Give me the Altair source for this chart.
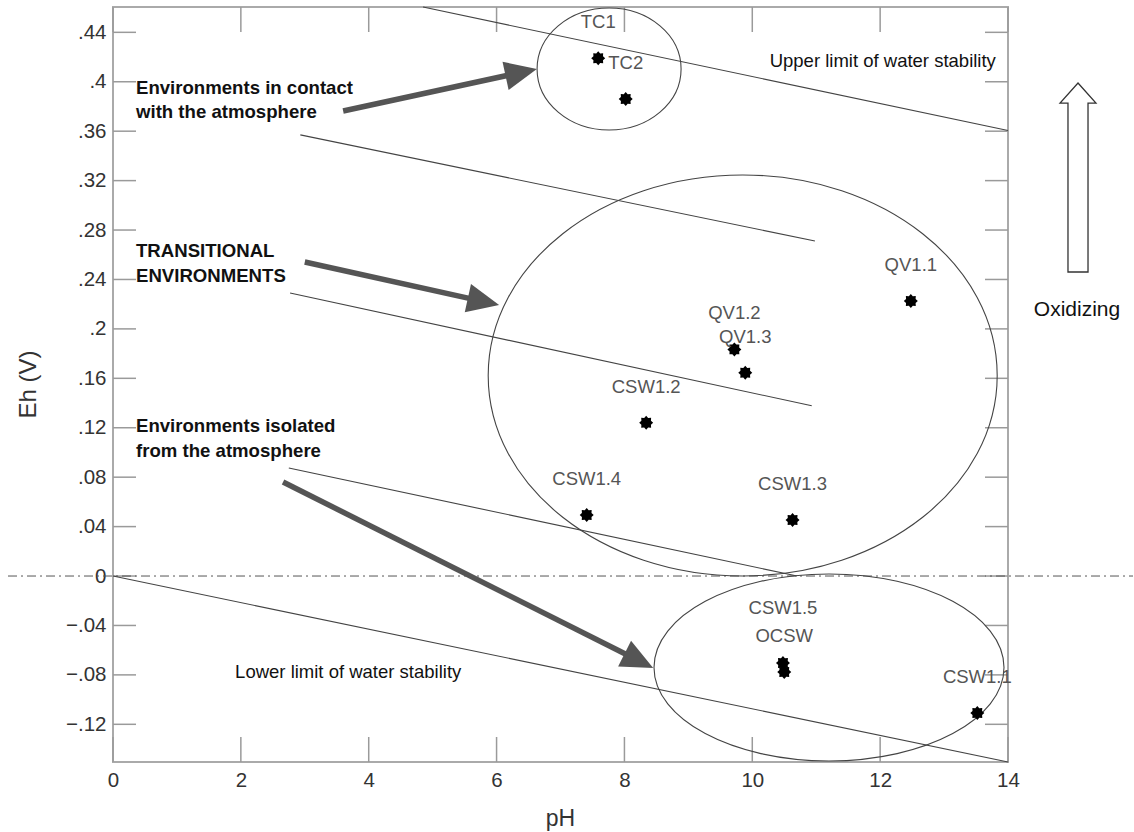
import math
import altair as alt
import pandas as pd

# ---------------- data ----------------
sample_names = ["TC1", "TC2", "QV1.1", "QV1.2", "QV1.3", "CSW1.2", "CSW1.4",
                "CSW1.3", "CSW1.5", "OCSW", "CSW1.1"]
sample_ph = [7.59, 8.02, 12.48, 9.72, 9.89, 8.34, 7.41, 10.63, 10.48, 10.50, 13.52]
sample_eh = [0.419, 0.386, 0.2226, 0.1834, 0.1645, 0.1241, 0.0494, 0.0453,
             -0.0704, -0.0777, -0.1108]

# boundary lines (water stability limits and environment separators)
line_names = ["upper", "trans_top", "trans_mid", "trans_low", "lower"]
line_ph_start = [4.85, 2.93, 2.77, 2.75, 0.0]
line_eh_start = [0.4605, 0.357, 0.229, 0.0874, 0.0]
line_ph_end = [14.0, 10.98, 10.93, 10.70, 14.0]
line_eh_end = [0.3605, 0.2711, 0.1378, 0.0, -0.1505]

# grouping ellipses: centre (pH, Eh) and pixel size
ellipse_ph = [7.76, 9.85, 11.20]
ellipse_eh = [0.4103, 0.1623, -0.074]
ellipse_w = [144, 509, 350]
ellipse_h = [122, 401, 187]

# annotation arrows: tail -> tip
arrow_tail_ph = [3.60, 3.00, 2.66]
arrow_tail_eh = [0.3763, 0.2541, 0.0761]
arrow_tip_ph = [6.63, 6.04, 8.45]
arrow_tip_eh = [0.4103, 0.2193, -0.0744]

x_ticks = [0, 2, 4, 6, 8, 10, 12, 14]
y_ticks = [-0.12, -0.08, -0.04, 0, 0.04, 0.08, 0.12, 0.16, 0.2, 0.24, 0.28,
           0.32, 0.36, 0.4, 0.44]

# ---------------- geometry ----------------
W, H = 895, 755
XD = [0, 14]
YD = [-0.1505, 0.4605]
FONT = "Liberation Sans"


def px(v):
    return (v - XD[0]) / (XD[1] - XD[0]) * W


def py(v):
    return (YD[1] - v) / (YD[1] - YD[0]) * H


def inv_px(p):
    return XD[0] + p / W * (XD[1] - XD[0])


def inv_py(p):
    return YD[1] - p / H * (YD[1] - YD[0])


xscale = alt.Scale(domain=XD, nice=False, zero=False)
yscale = alt.Scale(domain=YD, nice=False, zero=False)

xaxis = alt.Axis(values=x_ticks, title="pH", domain=False, ticks=False, grid=False,
                 labelFontSize=20.5, labelColor="#333", labelFont=FONT, labelPadding=8,
                 labelFlush=False, labelOverlap=False,
                 titleFontSize=23, titleFont=FONT, titleFontWeight="normal",
                 titleColor="#333", titleX=447, titleY=63, titleBaseline="alphabetic")
yaxis = alt.Axis(values=y_ticks, title="Eh (V)", domain=False, ticks=False, grid=False,
                 labelExpr="datum.value == 0 ? '0' : replace(format(datum.value, '.2~f'), '0.', '.')",
                 labelFontSize=20.5, labelColor="#333", labelFont=FONT, labelPadding=7,
                 labelOverlap=False, labelFlush=False,
                 titleFontSize=24, titleFont=FONT, titleFontWeight="normal",
                 titleColor="#333", titleX=-85, titleY=377, titleAngle=270,
                 titleBaseline="middle", titleAlign="center")


def X(field=None, datum=None):
    if datum is not None:
        return alt.X(datum=datum, type="quantitative", scale=xscale, axis=xaxis)
    return alt.X(field, type="quantitative", scale=xscale, axis=xaxis)


def Y(field=None, datum=None):
    if datum is not None:
        return alt.Y(datum=datum, type="quantitative", scale=yscale, axis=yaxis)
    return alt.Y(field, type="quantitative", scale=yscale, axis=yaxis)


# ---------------- tables ----------------
samples = pd.DataFrame({"name": sample_names, "ph": sample_ph, "eh": sample_eh})
lines = pd.DataFrame({"name": line_names, "ph": line_ph_start, "eh": line_eh_start,
                      "ph2": line_ph_end, "eh2": line_eh_end})

layers = []

# tick marks drawn inward on all four sides
ytk = pd.DataFrame({"v": y_ticks})
xtk = pd.DataFrame({"v": x_ticks})
tick_style = dict(color="#9a9a9a", strokeWidth=1.5)
layers.append(alt.Chart(ytk).mark_rule(**tick_style).encode(
    y=Y("v"), x=alt.value(0), x2=alt.value(23)))
layers.append(alt.Chart(ytk).mark_rule(**tick_style).encode(
    y=Y("v"), x=alt.value(W - 23), x2=alt.value(W)))
layers.append(alt.Chart(xtk).mark_rule(**tick_style).encode(
    x=X("v"), y=alt.value(0), y2=alt.value(25)))
layers.append(alt.Chart(xtk).mark_rule(**tick_style).encode(
    x=X("v"), y=alt.value(H - 25), y2=alt.value(H)))

# zero dash-dot line across the whole figure
layers.append(alt.Chart(pd.DataFrame({"v": [0]})).mark_rule(
    color="#555", strokeWidth=1, strokeDash=[9, 4, 2, 4]).encode(
    y=Y("v"), x=alt.value(-105), x2=alt.value(1020)))

# boundary lines
layers.append(alt.Chart(lines).mark_rule(color="#444", strokeWidth=1.1).encode(
    x=X("ph"), y=Y("eh"), x2="ph2", y2="eh2"))

# ellipses as custom symbols
def ellipse_path(a):
    k = 0.5523
    return (f"M-1,0 C-1,{-k*a:.4f} {-k},{-a:.4f} 0,{-a:.4f} "
            f"C{k},{-a:.4f} 1,{-k*a:.4f} 1,0 "
            f"C1,{k*a:.4f} {k},{a:.4f} 0,{a:.4f} "
            f"C{-k},{a:.4f} -1,{k*a:.4f} -1,0 Z")

for i in range(len(ellipse_ph)):
    e = pd.DataFrame({"ph": [ellipse_ph[i]], "eh": [ellipse_eh[i]]})
    layers.append(alt.Chart(e).mark_point(
        shape=ellipse_path(ellipse_h[i] / ellipse_w[i]), size=ellipse_w[i] ** 2,
        filled=False, stroke="#444", strokeWidth=1.1, opacity=1).encode(
        x=X("ph"), y=Y("eh")))

# arrows
HEAD = 32
head_path = "M0,-1 L0.9,1 L-0.9,1 Z"
shaft_rows = []
head_rows = []
for i in range(len(arrow_tail_ph)):
    tx, ty = px(arrow_tail_ph[i]), py(arrow_tail_eh[i])
    hx, hy = px(arrow_tip_ph[i]), py(arrow_tip_eh[i])
    L = math.hypot(hx - tx, hy - ty)
    dx, dy = (hx - tx) / L, (hy - ty) / L
    sx, sy = hx - dx * HEAD * 0.85, hy - dy * HEAD * 0.85
    cx, cy = hx - dx * HEAD / 2, hy - dy * HEAD / 2
    ang = math.degrees(math.atan2(dx, -dy)) % 360
    shaft_rows.append({"ph": arrow_tail_ph[i], "eh": arrow_tail_eh[i],
                       "ph2": inv_px(sx), "eh2": inv_py(sy)})
    head_rows.append({"ph": inv_px(cx), "eh": inv_py(cy), "ang": ang})
layers.append(alt.Chart(pd.DataFrame(shaft_rows)).mark_rule(
    color="#555", strokeWidth=5.5, strokeCap="butt").encode(
    x=X("ph"), y=Y("eh"), x2="ph2", y2="eh2"))
layers.append(alt.Chart(pd.DataFrame(head_rows)).mark_point(
    shape=head_path, size=HEAD ** 2, filled=True, color="#555", opacity=1).encode(
    x=X("ph"), y=Y("eh"), angle=alt.Angle("ang:Q", scale=None)))

# star markers
star = []
for k in range(16):
    r = 1 if k % 2 == 0 else 0.74
    a = math.pi * k / 8
    star.append(f"{r*math.sin(a):.3f},{-r*math.cos(a):.3f}")
star_path = "M" + " L".join(star) + " Z"
layers.append(alt.Chart(samples).mark_point(
    shape=star_path, size=196, filled=True, color="#000", opacity=1).encode(
    x=X("ph"), y=Y("eh")))

# sample labels
lab_style = dict(fontSize=18.5, font=FONT, color="#555", baseline="middle", align="center")
layers.append(alt.Chart(samples).transform_filter("datum.name != 'CSW1.5'").mark_text(
    dy=-36, **lab_style).encode(x=X("ph"), y=Y("eh"), text="name:N"))
layers.append(alt.Chart(samples).transform_filter("datum.name == 'CSW1.5'").mark_text(
    dy=-55, **lab_style).encode(x=X("ph"), y=Y("eh"), text="name:N"))

# annotation texts
def note(txt, ph, eh, bold=False, align="left", size=18.5, color="#111",
         baseline="alphabetic", lh=24):
    return alt.Chart(pd.DataFrame({"t": [txt]})).mark_text(
        align=align, baseline=baseline, fontSize=size, font=FONT,
        fontWeight="bold" if bold else "normal", color=color,
        lineBreak="\n", lineHeight=lh).encode(
        x=X(datum=ph), y=Y(datum=eh), text="t:N")

layers.append(note("Environments in contact\nwith the atmosphere", 0.36, 0.390, bold=True, size=18.6))
layers.append(note("TRANSITIONAL\nENVIRONMENTS", 0.36, 0.2582, bold=True, size=18.6, lh=25))
layers.append(note("Environments isolated\nfrom the atmosphere", 0.36, 0.1166, bold=True, size=18.6, lh=25))
layers.append(note("Lower limit of water stability", 1.91, -0.0825))
layers.append(note("Upper limit of water stability", 13.81, 0.412, align="right"))
layers.append(note("Oxidizing", inv_px(1077 - 113), inv_py(310 - 7), align="center",
                   size=21, baseline="middle"))

# hollow "oxidizing" arrow
ox_path = ("M0,-1 L0.19,-0.788 L0.106,-0.788 L0.106,1 L-0.106,1 "
           "L-0.106,-0.788 L-0.19,-0.788 Z")
ox = pd.DataFrame({"ph": [inv_px(1078 - 113)], "eh": [inv_py(177.5 - 7)]})
layers.append(alt.Chart(ox).mark_point(
    shape=ox_path, size=189 ** 2, filled=True, fill="white", stroke="#333",
    strokeWidth=1.3, opacity=1).encode(x=X("ph"), y=Y("eh")))

chart = alt.layer(*layers).properties(
    width=W, height=H,
    autosize=alt.AutoSizeParams(type="none"),
    padding={"left": 113, "top": 7, "right": 126, "bottom": 70},
    background="white",
).configure_view(stroke="#aaa", strokeWidth=2)

chart.save("out.html", embed_options={"renderer": "svg", "actions": False})
